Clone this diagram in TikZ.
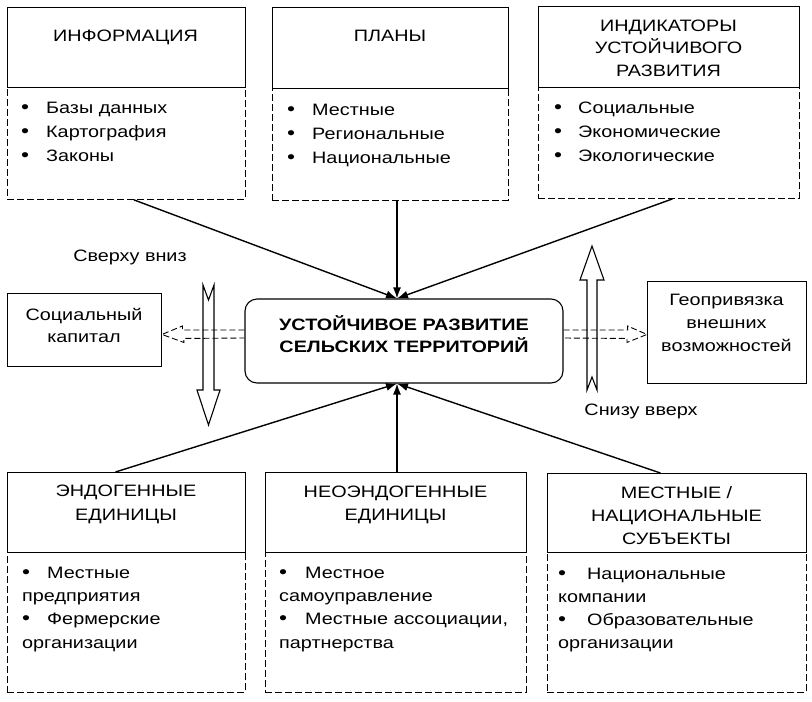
\documentclass[tikz,border=0pt]{standalone}
\usepackage{fontspec}
\setmainfont[FakeStretch=1.2]{Liberation Sans}
\usetikzlibrary{arrows.meta,calc}
\newcommand{\bul}[1]{\makebox[#1][l]{\fontsize{19}{19}\selectfont •}}
\begin{document}
\begin{tikzpicture}[x=1pt,y=-1pt,
  hbox/.style={draw, line width=0.9pt, inner sep=0pt, anchor=north west, fill=white},
  bbox/.style={draw, line width=0.9pt, dash pattern=on 7pt off 3pt, inner sep=0pt, anchor=north west},
  sbox/.style={draw, line width=0.9pt, inner sep=0pt, anchor=north west},
  txt/.style={inner sep=0pt, align=center, font=\fontsize{16.5}{22.5}\selectfont, anchor=base},
  ltxt/.style={inner sep=0pt, align=left, font=\fontsize{16.5}{24.3}\selectfont, anchor=base west},
  btxt/.style={inner sep=0pt, align=left, font=\fontsize{16.5}{23.3}\selectfont, anchor=base west},
  conn/.style={line width=1.4pt, -{Latex[length=11pt,width=8pt]}},
  dline/.style={line width=0.9pt, dash pattern=on 6pt off 3pt},
  hollow/.style={line width=1.1pt, line join=miter}]
\useasboundingbox (0,0) rectangle (812,702);
% top boxes
\node[bbox, minimum width=238pt, minimum height=112pt] (infoB) at (7,87) {};
\node[hbox, minimum width=238pt, minimum height=80pt] (infoH) at (7,7) {};
\node[bbox, minimum width=236pt, minimum height=112pt] (planB) at (272,88) {};
\node[hbox, minimum width=236pt, minimum height=81pt] (planH) at (272,7) {};
\node[bbox, minimum width=261pt, minimum height=111pt] (indB) at (538,87) {};
\node[hbox, minimum width=261pt, minimum height=81pt] (indH) at (538,6) {};
\node[txt] (infoT) at (125.5,41.7) {ИНФОРМАЦИЯ};
\node[txt] (planT) at (390,41.7) {ПЛАНЫ};
\node[txt, font=\fontsize{16.5}{22.2}\selectfont] (indT) at (668.5,76.1) {ИНДИКАТОРЫ\\УСТОЙЧИВОГО\\РАЗВИТИЯ};
\node[ltxt] (infoL) at (21,161.6) {\bul{25pt}Базы данных\\\bul{25pt}Картография\\\bul{25pt}Законы};
\node[ltxt] (planL) at (287,163.6) {\bul{25pt}Местные\\\bul{25pt}Региональные\\\bul{25pt}Национальные};
\node[ltxt] (indL) at (554,161.6) {\bul{24pt}Социальные\\\bul{24pt}Экономические\\\bul{24pt}Экологические};
% bottom boxes
\node[bbox, minimum width=238pt, minimum height=140pt] (endoB) at (7,552) {};
\node[hbox, minimum width=238pt, minimum height=80pt] (endoH) at (7,472) {};
\node[bbox, minimum width=261pt, minimum height=140pt] (neoB) at (265,552) {};
\node[hbox, minimum width=261pt, minimum height=80pt] (neoH) at (265,472) {};
\node[bbox, minimum width=259pt, minimum height=140pt] (mestB) at (547,552) {};
\node[hbox, minimum width=259pt, minimum height=79pt] (mestH) at (547,473) {};
\node[txt, font=\fontsize{16.5}{23.3}\selectfont] (endoT) at (126,520) {ЭНДОГЕННЫЕ\\ЕДИНИЦЫ};
\node[txt, font=\fontsize{16.5}{23.3}\selectfont] (neoT) at (395.5,520.3) {НЕОЭНДОГЕННЫЕ\\ЕДИНИЦЫ};
\node[txt, font=\fontsize{16.5}{23.3}\selectfont] (mestT) at (676.5,544.9) {МЕСТНЫЕ /\\НАЦИОНАЛЬНЫЕ\\СУБЪЕКТЫ};
\node[btxt] (endoL) at (22,648.2) {\bul{25pt}Местные\\предприятия\\\bul{25pt}Фермерские\\организации};
\node[btxt] (neoL) at (279,648.2) {\bul{26pt}Местное\\самоуправление\\\bul{26pt}Местные ассоциации,\\партнерства};
\node[btxt] (mestL) at (558,648.9) {\bul{29pt}Национальные\\компании\\\bul{29pt}Образовательные\\организации};
% centre
\node[draw, rounded corners=12pt, minimum width=318pt, minimum height=84pt, line width=1.1pt, inner sep=0pt] (center) at (404,341) {};
\node[txt, font=\fontsize{16.5}{22}\selectfont\bfseries] (centerT) at (404,352) {УСТОЙЧИВОЕ РАЗВИТИЕ\\СЕЛЬСКИХ ТЕРРИТОРИЙ};
% side boxes
\node[sbox, minimum width=154pt, minimum height=73pt] (soc) at (7,293) {};
\node[txt, font=\fontsize{16.5}{22}\selectfont] (socT) at (84,342) {Социальный\\капитал};
\node[sbox, minimum width=159pt, minimum height=102pt] (geo) at (647,281) {};
\node[txt, font=\fontsize{16.5}{23}\selectfont] (geoT) at (726.5,351) {Геопривязка\\внешних\\возможностей};
% labels
\node[txt] (downT) at (130,261.7) {Сверху вниз};
\node[txt] (upT) at (641,415) {Снизу вверх};
% connectors
\coordinate (topin) at ($(center.north)+(-7,0)$);
\coordinate (botin) at ($(center.south)+(-7,0)$);
\draw[conn] ($(infoB.south)+(7.5,0)$) -- (topin);
\draw[conn] (topin |- planB.south) -- (topin);
\draw[conn] ($(indB.south)+(3.5,0)$) -- (topin);
\draw[conn] ($(endoH.north)+(-11,0)$) -- (botin);
\draw[conn] (botin |- neoH.north) -- (botin);
\draw[conn] ($(mestH.north)+(-16.5,0)$) -- (botin);
% hollow vertical arrows
\draw[hollow] (203,285) -- (208.5,300) -- (214,285) -- (214,390) -- (220,390) -- (208.5,425) -- (197,390) -- (203,390) -- cycle;
\draw[hollow] (587,390) -- (592,377) -- (597,390) -- (597,280) -- (604,280) -- (592,246) -- (580,280) -- (587,280) -- cycle;
% dashed double arrows
\coordinate (lt) at ($(soc.east)+(0,4.5)$);
\draw[dline] ($(center.west)+(0,-11)$) -- ++(-62,0) -- ++(0,-4) -- (lt) -- ($(lt)+(22,8)$) -- ++(0,-4) -- ($(center.west)+(0,-3)$);
\coordinate (rt) at ($(geo.west)+(0,2)$);
\draw[dline] ($(center.east)+(0,-11)$) -- ++(64,0) -- ++(0,-4) -- (rt) -- ($(rt)+(-20,8)$) -- ++(0,-4) -- ($(center.east)+(0,-3)$);
\end{tikzpicture}
\end{document}
